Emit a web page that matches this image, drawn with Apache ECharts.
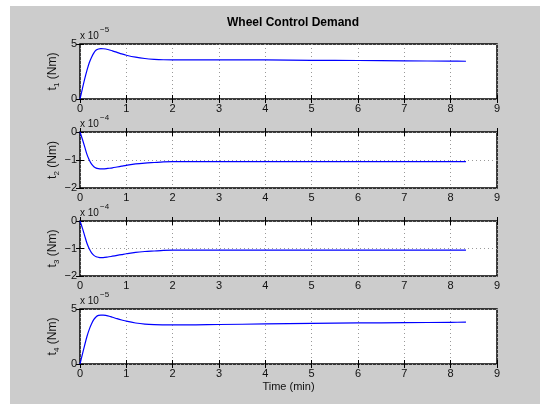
<!DOCTYPE html>
<html>
<head>
<meta charset="utf-8">
<script src="https://cdn.jsdelivr.net/npm/echarts@6/dist/echarts.min.js"></script>
<style>
  html, body { margin: 0; padding: 0; background: #fff; }
  #chart { position: absolute; left: 10px; top: 6px; width: 530px; height: 398px; }
</style>
</head>
<body>
<div id="chart"></div>
<script>
// time axis in minutes, shared by the four torques
var timeMin = [0, 0.05, 0.1, 0.15, 0.2, 0.25, 0.3, 0.35, 0.4, 0.45, 0.5, 0.6, 0.7, 0.8, 0.9, 1.0,
  1.2, 1.4, 1.6, 1.8, 2.0, 2.5, 3.0, 4.0, 5.0, 6.0, 7.0, 8.0, 8.33];

// torques (scaled: t1,t4 in 1e-5 Nm, t2,t3 in 1e-4 Nm)
var t1Vals = [0, 0.9, 1.8, 2.6, 3.3, 3.8, 4.2, 4.45, 4.55, 4.58, 4.57, 4.5, 4.38, 4.24, 4.1, 3.98,
  3.8, 3.68, 3.61, 3.57, 3.56, 3.56, 3.56, 3.55, 3.52, 3.5, 3.47, 3.44, 3.43];
var t2Vals = [0, -0.25, -0.52, -0.8, -1.0, -1.15, -1.24, -1.29, -1.31, -1.32, -1.32, -1.3, -1.28, -1.25, -1.22, -1.19,
  -1.14, -1.11, -1.09, -1.07, -1.06, -1.06, -1.06, -1.06, -1.06, -1.06, -1.06, -1.06, -1.06];
var t3Vals = [0, -0.25, -0.53, -0.81, -1.01, -1.16, -1.25, -1.3, -1.32, -1.33, -1.33, -1.31, -1.28, -1.25, -1.22, -1.19,
  -1.14, -1.11, -1.09, -1.07, -1.06, -1.06, -1.06, -1.06, -1.06, -1.06, -1.06, -1.06, -1.06];
var t4Vals = [0, 0.85, 1.7, 2.5, 3.15, 3.65, 4.05, 4.3, 4.42, 4.45, 4.44, 4.37, 4.25, 4.12, 4.0, 3.89,
  3.73, 3.63, 3.58, 3.56, 3.55, 3.56, 3.59, 3.64, 3.69, 3.73, 3.76, 3.79, 3.8];

var xTicks = [0, 9, 1];          // min, max, interval
var yRanges = [[0, 5, 5], [-2, 0, 1], [-2, 0, 1], [0, 5, 5]];
var subs = ['1', '2', '3', '4'];
var exps = ['\u22125', '\u22124', '\u22124', '\u22125'];

var allVals = [t1Vals, t2Vals, t3Vals, t4Vals];
var tops = [38, 126, 215, 303];
var heights = [55, 56, 55, 55];

var font = 'Liberation Sans, Arial, sans-serif';

var grids = [], xAxes = [], yAxes = [], series = [], graphics = [];

for (var i = 0; i < 4; i++) {
  grids.push({
    left: 70, top: tops[i], width: 417, height: heights[i],
    show: true, backgroundColor: '#fff', borderColor: '#000', borderWidth: 1.5
  });
  // bottom x axis with labels and grid
  xAxes.push({
    gridIndex: i, type: 'value', min: xTicks[0], max: xTicks[1], interval: xTicks[2],
    axisLine: { show: false },
    axisTick: { inside: true, length: 4, lineStyle: { color: '#000' } },
    axisLabel: { color: '#111', fontSize: 11, fontFamily: font, margin: 4 },
    splitLine: { show: true, lineStyle: { color: '#999', type: [1, 3], width: 1 } },
    name: i === 3 ? 'Time (min)' : '',
    nameLocation: 'middle', nameGap: 17, nameMoveOverlap: false,
    nameTextStyle: { color: '#111', fontSize: 11, fontFamily: font }
  });
  // top x axis, ticks only
  xAxes.push({
    gridIndex: i, type: 'value', position: 'top', min: xTicks[0], max: xTicks[1], interval: xTicks[2],
    axisLine: { show: false },
    axisTick: { inside: true, length: 4, lineStyle: { color: '#000' } },
    axisLabel: { show: false }, splitLine: { show: false }
  });
  yAxes.push({
    gridIndex: i, type: 'value', min: yRanges[i][0], max: yRanges[i][1], interval: yRanges[i][2],
    axisLine: { show: false },
    axisTick: { inside: true, length: 4, lineStyle: { color: '#000' } },
    axisLabel: {
      color: '#111', fontSize: 11, fontFamily: font, margin: 3,
      formatter: function (v) { return String(v).replace('-', '\u2212'); }
    },
    splitLine: { show: true, lineStyle: { color: '#999', type: [1, 3], width: 1 } },
    name: '{a|t}{s|' + subs[i] + '}{a| (Nm)}',
    nameLocation: 'middle', nameRotate: 90, nameGap: 19, nameMoveOverlap: false,
    nameTextStyle: {
      rich: {
        a: { fontSize: 12, fontFamily: font, color: '#111', lineHeight: 16, verticalAlign: 'middle' },
        s: { fontSize: 8, fontFamily: font, color: '#111', lineHeight: 16, verticalAlign: 'bottom' }
      }
    }
  });
  yAxes.push({
    gridIndex: i, type: 'value', position: 'right', min: yRanges[i][0], max: yRanges[i][1], interval: yRanges[i][2],
    axisLine: { show: false },
    axisTick: { inside: true, length: 4, lineStyle: { color: '#000' } },
    axisLabel: { show: false }, splitLine: { show: false }
  });
  series.push({
    type: 'line', xAxisIndex: i * 2, yAxisIndex: i * 2,
    showSymbol: false, smooth: 0.3,
    lineStyle: { color: '#0000ff', width: 1.2 },
    data: timeMin.map(function (t, k) { return [t, allVals[i][k]]; })
  });
  // "x 10^n" multiplier above each axes
  graphics.push({
    type: 'text', left: 70, top: tops[i] - 13,
    style: { text: 'x 10', font: '10px ' + font, fill: '#111' }
  });
  graphics.push({
    type: 'text', left: 90, top: tops[i] - 18,
    style: { text: exps[i], font: '8px ' + font, fill: '#111' }
  });
}

var option = {
  backgroundColor: '#cccccc',
  animation: false,
  title: {
    text: 'Wheel Control Demand',
    left: 278, top: 6, textAlign: 'center',
    textStyle: { fontSize: 12, fontWeight: 'bold', color: '#000', fontFamily: font }
  },
  grid: grids,
  xAxis: xAxes,
  yAxis: yAxes,
  series: series,
  graphic: graphics
};

var chart = echarts.init(document.getElementById('chart'));
chart.setOption(option);
</script>
</body>
</html>
